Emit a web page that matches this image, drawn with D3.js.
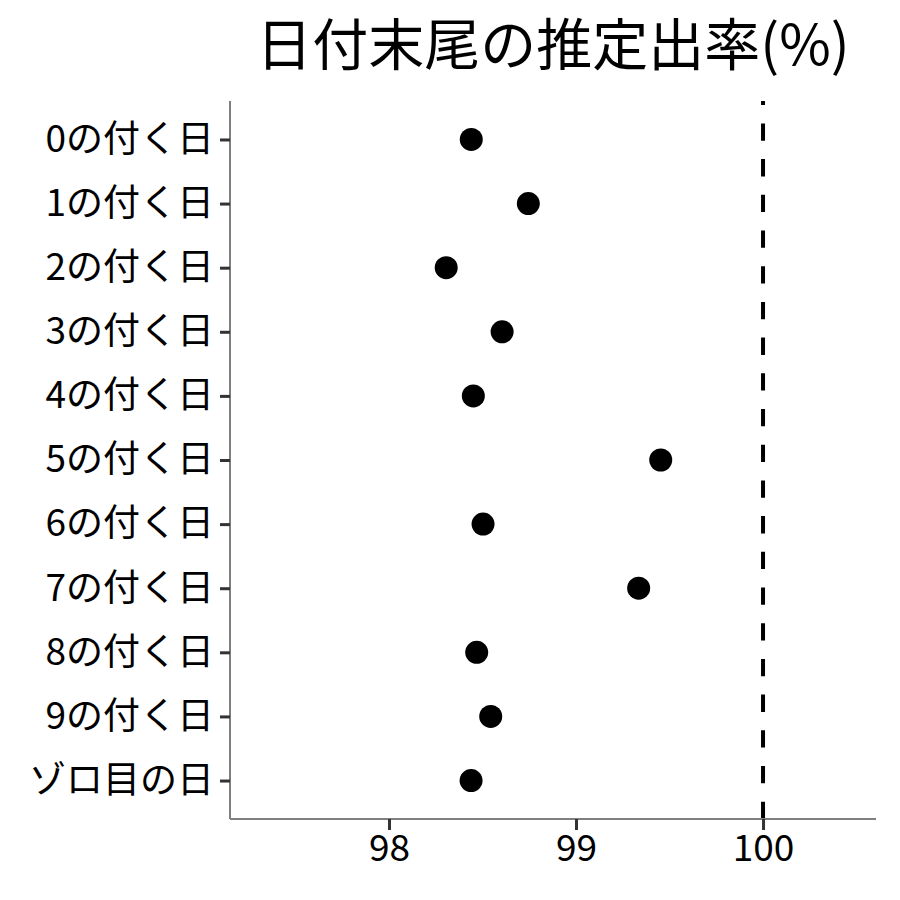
<!DOCTYPE html>
<html>
<head>
<meta charset="utf-8">
<script src="https://cdn.jsdelivr.net/npm/d3@7/dist/d3.min.js"></script>
<style>
  html, body { margin: 0; padding: 0; background: #fff; }
  svg text { font-family: "Noto Sans CJK JP", "Noto Sans", sans-serif; font-weight: 400; }
</style>
</head>
<body>
<svg id="chart" width="900" height="900"></svg>
<script>
const categories = ["0の付く日","1の付く日","2の付く日","3の付く日","4の付く日","5の付く日","6の付く日","7の付く日","8の付く日","9の付く日","ゾロ目の日"];
const values = [98.44, 98.745, 98.306, 98.605, 98.451, 99.453, 98.503, 99.335, 98.469, 98.544, 98.439];
const xTicks = [98, 99, 100];
const refLine = 100;
const titleText = "日付末尾の推定出率(%)";

const svg = d3.select("#chart");
const mLeft = 230, mRight = 876, mTop = 101, mBottom = 819;

const x = d3.scaleLinear().domain([97.15, 100.604]).range([mLeft, mRight]);
const y = d3.scalePoint().domain(categories).range([mTop, mBottom]).padding(0.6);

// points
svg.append("g").selectAll("circle")
  .data(categories.map((c, i) => ({c, v: values[i]})))
  .join("circle")
  .attr("cx", d => x(d.v))
  .attr("cy", d => y(d.c))
  .attr("r", 11.5)
  .attr("fill", "#000");

// dashed reference line (drawn from bottom up)
svg.append("line")
  .attr("x1", x(refLine)).attr("x2", x(refLine))
  .attr("y1", mBottom).attr("y2", mTop)
  .attr("stroke", "#000")
  .attr("stroke-width", 4)
  .attr("stroke-dasharray", "17.3,18.4");

// x axis
const xAxis = svg.append("g").attr("transform", `translate(0,${mBottom})`)
  .call(d3.axisBottom(x).tickValues(xTicks).tickSize(11).tickPadding(5).tickFormat(d3.format("d")));
xAxis.select(".domain").attr("stroke", "#7f7f7f").attr("stroke-width", 2).attr("d", `M${mLeft},0H${mRight}`);
xAxis.selectAll(".tick line").attr("stroke", "#333").attr("stroke-width", 3);
xAxis.selectAll(".tick text").attr("fill", "#000").attr("font-size", 37);

// y axis
const yAxis = svg.append("g").attr("transform", `translate(${mLeft},0)`)
  .call(d3.axisLeft(y).tickSize(10).tickPadding(6));
yAxis.select(".domain").attr("stroke", "#7f7f7f").attr("stroke-width", 2).attr("d", `M0,${mTop}V${mBottom}`);
yAxis.selectAll(".tick line").attr("stroke", "#333").attr("stroke-width", 3);
yAxis.selectAll(".tick text").attr("fill", "#000").attr("font-size", 37);

// title
svg.append("text")
  .attr("x", (mLeft + mRight) / 2)
  .attr("y", 65)
  .attr("text-anchor", "middle")
  .attr("font-size", 56)
  .attr("fill", "#000")
  .text(titleText);
</script>
</body>
</html>
